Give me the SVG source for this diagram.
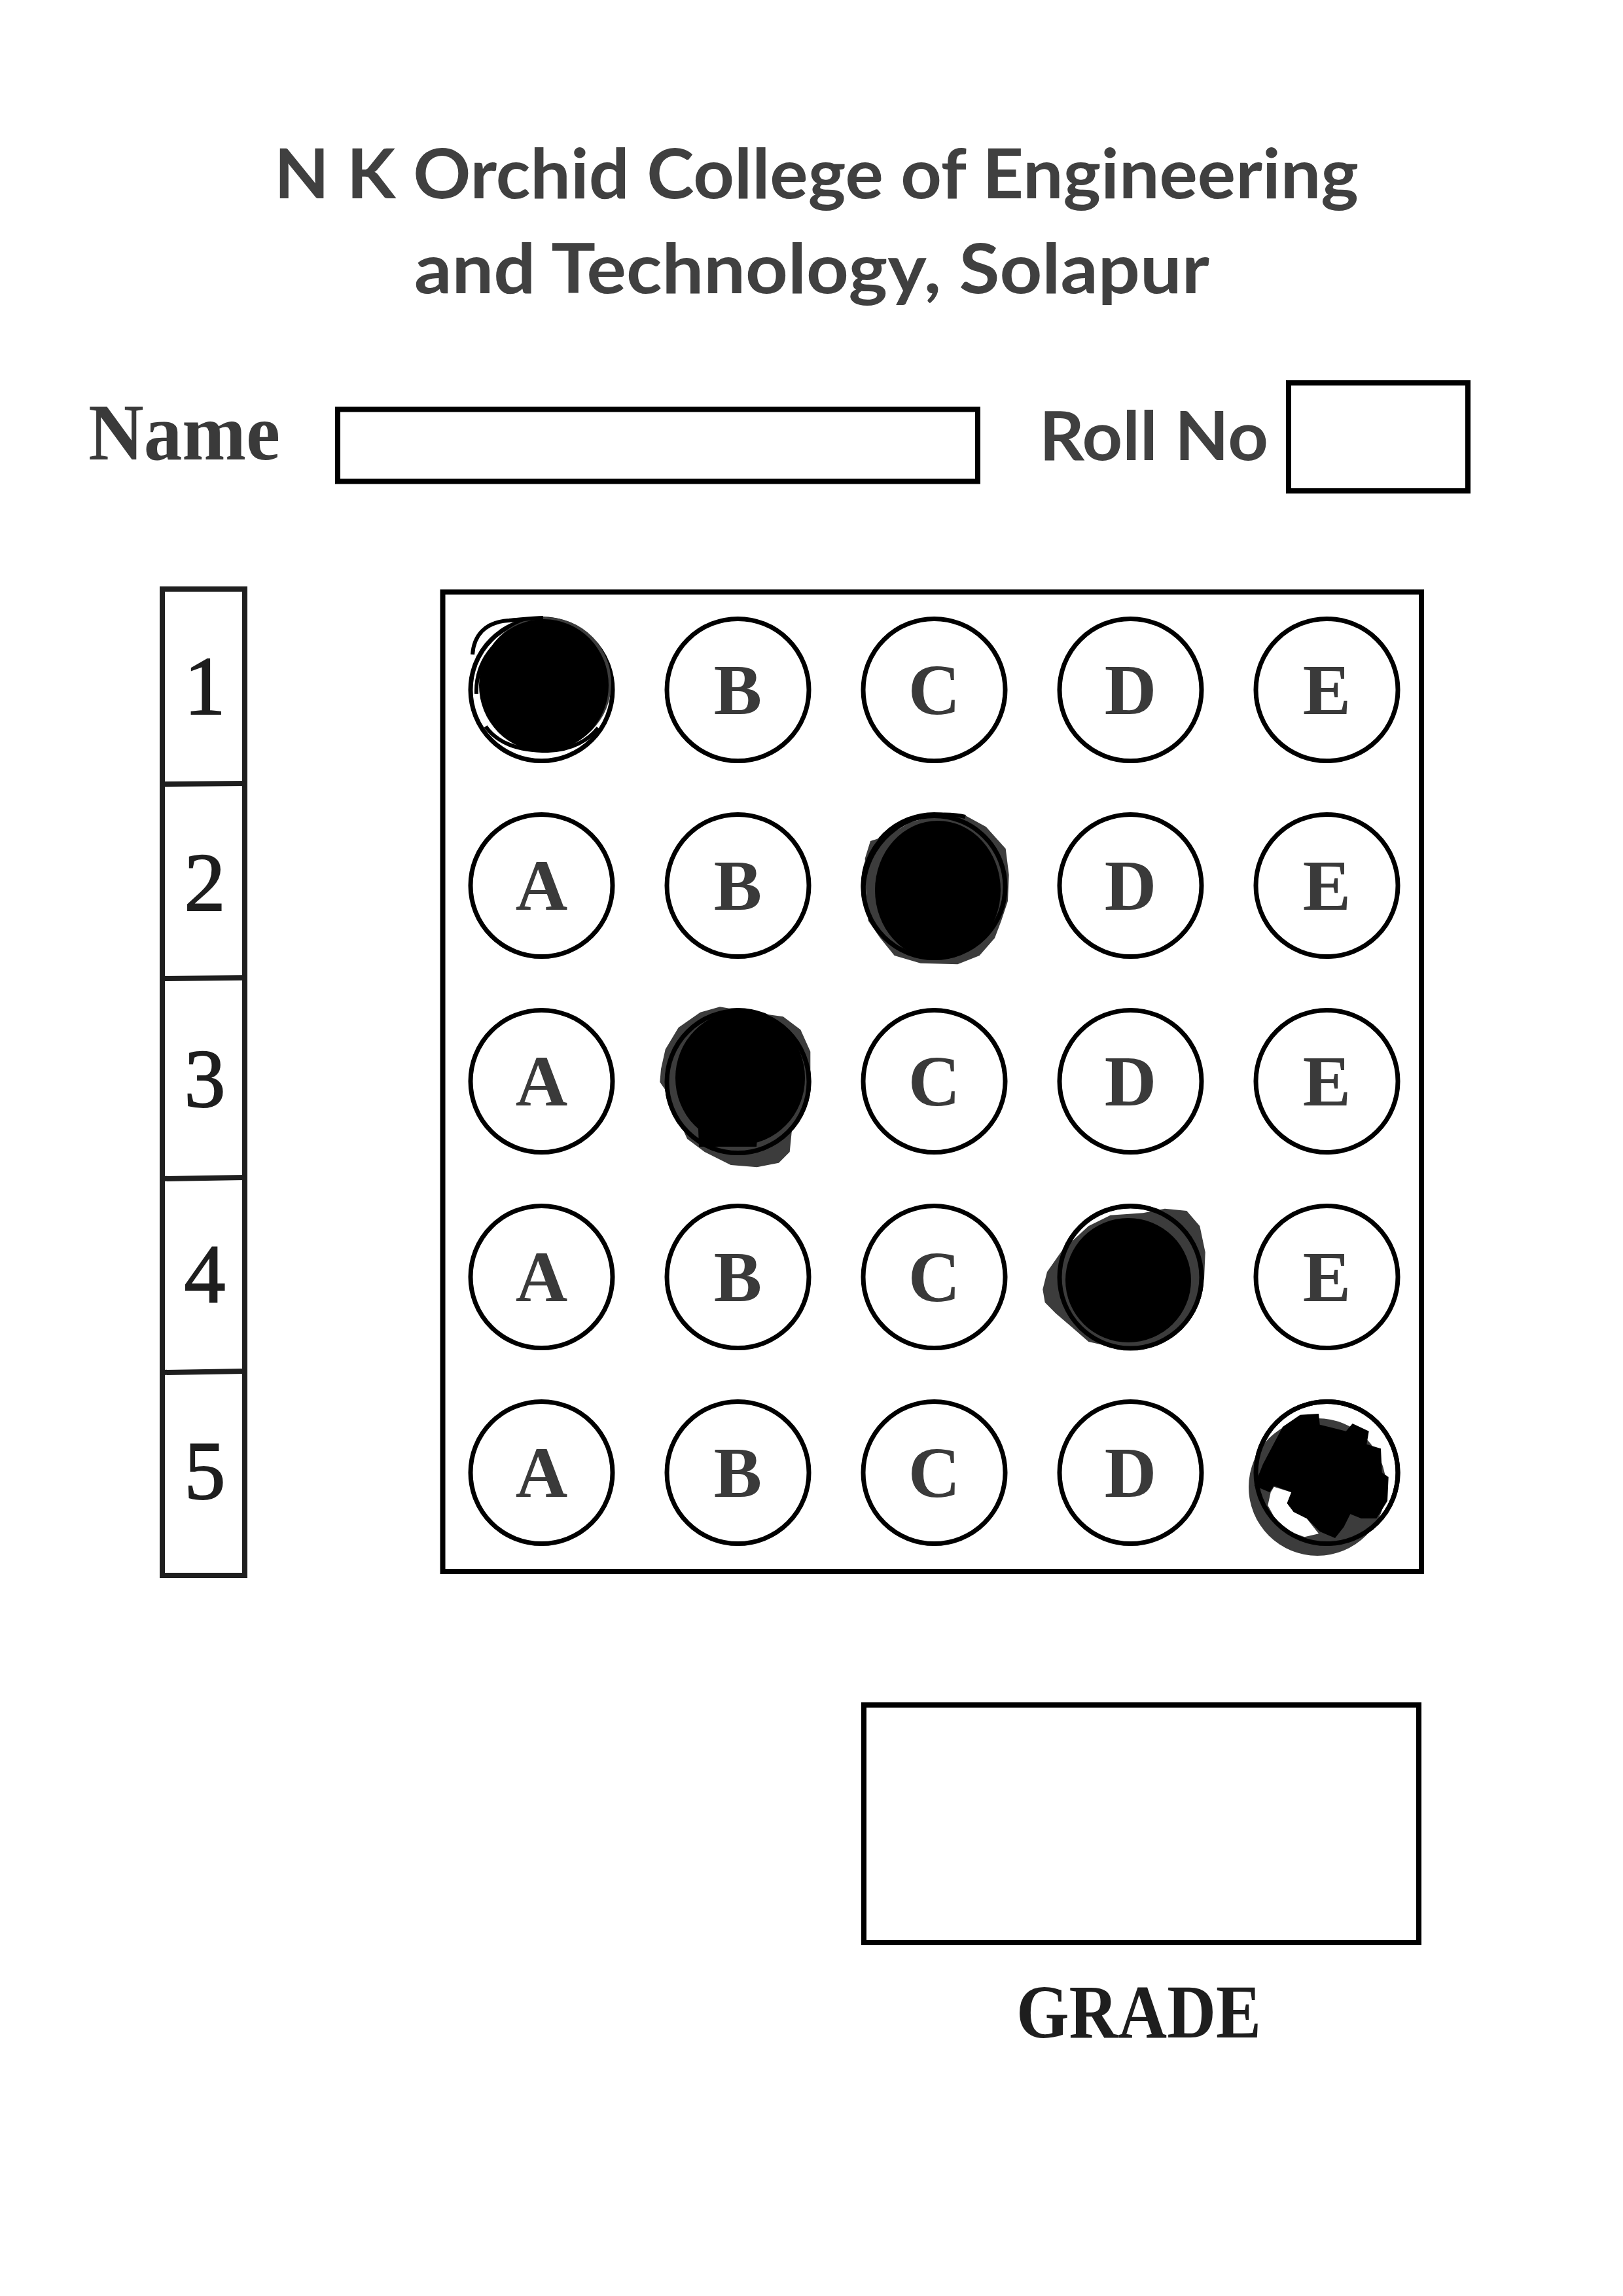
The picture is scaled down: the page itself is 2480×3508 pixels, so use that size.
<svg xmlns="http://www.w3.org/2000/svg" width="2480" height="3508" viewBox="0 0 2480 3508">
<style>
.title{font-family:Lato,"Open Sans","Liberation Sans",sans-serif;font-weight:700;fill:#404040}
.name{font-family:"Liberation Serif",serif;font-weight:700;fill:#3a3a3a}
.box{fill:none;stroke:#000;stroke-width:8}
.col{fill:none;stroke:#1f1f1f;stroke-width:8}
.ring{fill:#fff;stroke:#000;stroke-width:7}
.ringo{fill:none;stroke:#000;stroke-width:7}
.opt{font-family:"Liberation Serif",serif;font-weight:700;font-size:110px;fill:#3a3a3a;text-anchor:middle}
.num{font-family:"Liberation Serif",serif;font-weight:400;font-size:126px;fill:#1e1e1e;text-anchor:middle;stroke:#1e1e1e;stroke-width:2}
.halo{fill:#3c3c3c}
.ink{fill:#000}
.loop{fill:none;stroke:#000;stroke-width:6}
</style>
<rect width="2480" height="3508" fill="#fff"/>

<g id="header">
<text class="title" x="419" y="303" font-size="106" textLength="1657" lengthAdjust="spacingAndGlyphs">N K Orchid College of Engineering</text>
<text class="title" x="633" y="448" font-size="106" textLength="1215" lengthAdjust="spacingAndGlyphs">and Technology, Solapur</text>
</g>

<g id="name-field">
<text class="name" x="135" y="702" font-size="122" textLength="293" lengthAdjust="spacingAndGlyphs">Name</text>
<rect class="box" x="516" y="625.5" width="978" height="110"/>
</g>

<g id="roll-field">
<text class="title" x="1588" y="703" font-size="103" textLength="350" lengthAdjust="spacingAndGlyphs">Roll No</text>
<rect class="box" x="1969" y="585" width="274" height="165"/>
</g>

<g id="question-numbers">
<rect class="col" x="248" y="900" width="126" height="1507"/>
<line class="col" x1="248" y1="1198" x2="374" y2="1197"/>
<line class="col" x1="248" y1="1495" x2="374" y2="1494"/>
<line class="col" x1="248" y1="1801" x2="374" y2="1799"/>
<line class="col" x1="248" y1="2097" x2="374" y2="2095"/>
<text class="num" x="313" y="1091">1</text>
<text class="num" x="313" y="1391">2</text>
<text class="num" x="313" y="1691">3</text>
<text class="num" x="313" y="1989">4</text>
<text class="num" x="313" y="2290">5</text>
</g>

<g id="answer-grid">
<rect class="box" x="676.5" y="904.5" width="1495.5" height="1496.5"/>

<!-- Row 1 -->
<g id="q1-a">
<circle class="ring" cx="827.5" cy="1054" r="108.5"/>
<ellipse class="halo" cx="834" cy="1044" rx="100" ry="101"/>
<ellipse class="ink" cx="831" cy="1047" rx="99" ry="101"/>
<path class="loop" d="M722,1000 C724,972 740,950 778,948 C800,946 815,944 830,944"/>
<path class="loop" d="M742,1110 C760,1135 790,1147 837,1147 C875,1146 900,1130 914,1112"/>
<path class="loop" d="M728,1060 C726,1010 760,960 830,955 C880,952 920,990 925,1040"/>
</g>
<g id="q1-b"><circle class="ring" cx="1127.5" cy="1054" r="108.5"/><text class="opt" x="1127.5" y="1091">B</text></g>
<g id="q1-c"><circle class="ring" cx="1427.5" cy="1054" r="108.5"/><text class="opt" x="1427.5" y="1091">C</text></g>
<g id="q1-d"><circle class="ring" cx="1727.5" cy="1054" r="108.5"/><text class="opt" x="1727.5" y="1091">D</text></g>
<g id="q1-e"><circle class="ring" cx="2027.5" cy="1054" r="108.5"/><text class="opt" x="2027.5" y="1091">E</text></g>

<!-- Row 2 -->
<g id="q2-a"><circle class="ring" cx="827.5" cy="1353" r="108.5"/><text class="opt" x="827.5" y="1390">A</text></g>
<g id="q2-b"><circle class="ring" cx="1127.5" cy="1353" r="108.5"/><text class="opt" x="1127.5" y="1390">B</text></g>
<g id="q2-c">
<circle class="ring" cx="1427.5" cy="1353" r="108.5"/>
<path class="halo" d="M1321.7,1311.7 L1330,1285 L1356.7,1276.7 L1390,1256.7 L1436.7,1243.3 L1473.3,1245 L1506.7,1263.3 L1536.7,1296.7 L1541.7,1336.7 L1540,1376.7 L1530,1406.7 L1520,1433.3 L1496.7,1460 L1463.3,1473.3 L1406.7,1471.7 L1366.7,1460 L1345,1433.3 L1326.7,1406.7 L1323.3,1366.7 Z"/>
<ellipse class="ink" cx="1433" cy="1360" rx="96" ry="106"/>
<circle class="ringo" cx="1427.5" cy="1355" r="108.5"/>
<path class="loop" d="M1320,1375 C1315,1320 1345,1270 1400,1250 C1430,1242 1460,1244 1475,1248"/>
</g>
<g id="q2-d"><circle class="ring" cx="1727.5" cy="1353" r="108.5"/><text class="opt" x="1727.5" y="1390">D</text></g>
<g id="q2-e"><circle class="ring" cx="2027.5" cy="1353" r="108.5"/><text class="opt" x="2027.5" y="1390">E</text></g>

<!-- Row 3 -->
<g id="q3-a"><circle class="ring" cx="827.5" cy="1652" r="108.5"/><text class="opt" x="827.5" y="1689">A</text></g>
<g id="q3-b">
<circle class="ring" cx="1127.5" cy="1652" r="108.5"/>
<path class="halo" d="M1010,1633.3 L1016.7,1603.3 L1036.7,1570 L1070,1546.7 L1100,1538.3 L1150,1546.7 L1196.7,1553.3 L1223.3,1573.3 L1238.3,1606.7 L1238.3,1660 L1230,1693.3 L1210,1726.7 L1206.7,1760 L1190,1776.7 L1156.7,1783.3 L1116.7,1780 L1076.7,1760 L1050,1740 L1036.7,1710 L1020,1670 L1008.3,1653.3 Z"/>
<ellipse class="ink" cx="1131" cy="1647" rx="99" ry="102"/>
<path class="ink" d="M1066,1700 L1160,1700 L1156,1752 L1068,1752 Z"/>
<circle class="ringo" cx="1127.5" cy="1653" r="108.5"/>
</g>
<g id="q3-c"><circle class="ring" cx="1427.5" cy="1652" r="108.5"/><text class="opt" x="1427.5" y="1689">C</text></g>
<g id="q3-d"><circle class="ring" cx="1727.5" cy="1652" r="108.5"/><text class="opt" x="1727.5" y="1689">D</text></g>
<g id="q3-e"><circle class="ring" cx="2027.5" cy="1652" r="108.5"/><text class="opt" x="2027.5" y="1689">E</text></g>

<!-- Row 4 -->
<g id="q4-a"><circle class="ring" cx="827.5" cy="1951" r="108.5"/><text class="opt" x="827.5" y="1988">A</text></g>
<g id="q4-b"><circle class="ring" cx="1127.5" cy="1951" r="108.5"/><text class="opt" x="1127.5" y="1988">B</text></g>
<g id="q4-c"><circle class="ring" cx="1427.5" cy="1951" r="108.5"/><text class="opt" x="1427.5" y="1988">C</text></g>
<g id="q4-d">
<circle class="ring" cx="1727.5" cy="1951" r="108.5"/>
<path class="halo" d="M1593.3,1970 L1600,1943.3 L1623.3,1910 L1663.3,1873.3 L1696.7,1856.7 L1746.7,1853.3 L1780,1846.7 L1813.3,1850 L1833.3,1873.3 L1841.7,1913.3 L1840,1953.3 L1820,2006.7 L1793.3,2040 L1746.7,2060 L1700,2058.3 L1663.3,2050 L1636.7,2026.7 L1613.3,2006.7 L1596.7,1990 Z"/>
<ellipse class="ink" cx="1724" cy="1956" rx="96" ry="95"/>
<circle class="ringo" cx="1727.5" cy="1951.5" r="108.5"/>
</g>
<g id="q4-e"><circle class="ring" cx="2027.5" cy="1951" r="108.5"/><text class="opt" x="2027.5" y="1988">E</text></g>

<!-- Row 5 -->
<g id="q5-a"><circle class="ring" cx="827.5" cy="2250" r="108.5"/><text class="opt" x="827.5" y="2287">A</text></g>
<g id="q5-b"><circle class="ring" cx="1127.5" cy="2250" r="108.5"/><text class="opt" x="1127.5" y="2287">B</text></g>
<g id="q5-c"><circle class="ring" cx="1427.5" cy="2250" r="108.5"/><text class="opt" x="1427.5" y="2287">C</text></g>
<g id="q5-d"><circle class="ring" cx="1727.5" cy="2250" r="108.5"/><text class="opt" x="1727.5" y="2287">D</text></g>
<g id="q5-e">
<circle class="ring" cx="2027.5" cy="2250" r="108.5"/>
<circle class="halo" cx="2013" cy="2272" r="105"/>
<path fill="#fff" d="M1941.7,2280 L1937.3,2300 L1950,2323.3 L1970,2340 L1993.3,2348.3 L2015,2343.3 L1996.7,2320 L1976.7,2310 L1966.7,2296.7 L1973.3,2280 L1946.7,2271.7 Z"/>
<path class="ink" d="M1916.7,2270 L1930,2236.7 L1960,2180 L1986.7,2161.7 L2015,2160 L2016.7,2176.7 L2056.7,2186.7 L2066.7,2175 L2091.7,2186.7 L2088.3,2206.7 L2110,2213.3 L2111.7,2250 L2121.7,2256.7 L2120,2293.3 L2103.3,2320 L2080,2320 L2063.3,2313.3 L2053.3,2333.3 L2040,2350 L2016.7,2340 L1996.7,2320 L1976.7,2310 L1966.7,2296.7 L1973.3,2280 L1946.7,2270 L1940,2280 Z"/>
<circle class="ringo" cx="2027.5" cy="2250" r="108.5"/>
</g>
</g>

<g id="grade">
<rect class="box" x="1320" y="2605" width="848" height="363"/>
<text class="name" x="1553" y="3113" font-size="116" style="fill:#1e1e1e" textLength="374" lengthAdjust="spacingAndGlyphs">GRADE</text>
</g>
</svg>
